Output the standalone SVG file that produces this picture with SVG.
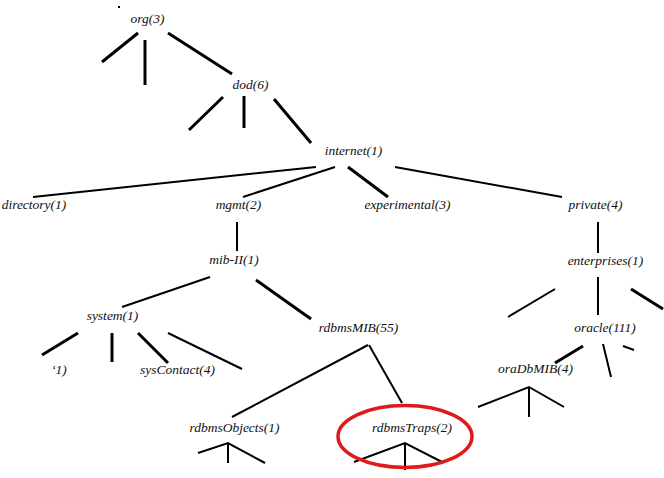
<svg xmlns="http://www.w3.org/2000/svg" width="664" height="478" viewBox="0 0 664 478">
<style>
.t{font-style:italic;font-size:13.5px;fill:#111;text-anchor:middle}
.k{stroke:#000;stroke-width:3;fill:none;stroke-linecap:butt}
.m{stroke:#000;stroke-width:2;fill:none}
</style>
<rect width="664" height="478" fill="#fff"/>
<g id="connectors">
<line class="m" x1="118" y1="7" x2="120" y2="7"/>
<line class="k" x1="138" y1="33" x2="102" y2="62"/>
<line class="k" x1="145" y1="40" x2="145" y2="85"/>
<line class="k" x1="168" y1="33" x2="232" y2="74"/>
<line class="k" x1="223" y1="97" x2="189" y2="130"/>
<line class="k" x1="244" y1="96" x2="244" y2="128"/>
<line class="k" x1="274" y1="99" x2="311" y2="143"/>
<line class="m" x1="316" y1="167" x2="33" y2="197"/>
<line class="m" x1="335" y1="167" x2="243" y2="197"/>
<line class="k" x1="348" y1="167" x2="388" y2="197"/>
<line class="m" x1="395" y1="167" x2="562" y2="197"/>
<line class="m" x1="237" y1="222" x2="237" y2="251"/>
<line class="m" x1="598" y1="222" x2="598" y2="253"/>
<line class="m" x1="210" y1="277" x2="122" y2="307"/>
<line class="k" x1="256" y1="280" x2="311" y2="319"/>
<line class="k" x1="78" y1="333" x2="42" y2="355"/>
<line class="k" x1="112" y1="333" x2="112" y2="362"/>
<line class="k" x1="138" y1="333" x2="168" y2="363"/>
<line class="m" x1="168" y1="333" x2="242" y2="369"/>
<line class="m" x1="368" y1="345" x2="232" y2="417"/>
<line class="m" x1="369" y1="345" x2="402" y2="403"/>
<polyline class="m" points="198,453 228,443 265,463"/>
<line class="m" x1="228" y1="443" x2="228" y2="463"/>
<polyline class="m" points="354,462 405,443 442,462"/>
<line class="m" x1="405" y1="443" x2="405" y2="470"/>
<line class="m" x1="555" y1="289" x2="508" y2="317"/>
<line class="m" x1="598" y1="277" x2="598" y2="315"/>
<line class="k" x1="631" y1="289" x2="663" y2="309"/>
<line class="k" x1="583" y1="346" x2="555" y2="363"/>
<line class="m" x1="603" y1="344" x2="611" y2="377"/>
<line class="m" x1="623" y1="346" x2="634" y2="350"/>
<polyline class="m" points="478,407 529,387 564,407"/>
<line class="m" x1="529" y1="387" x2="529" y2="417"/>
</g>
<g font-family="Liberation Serif, DejaVu Serif, serif">
<g id="org"><text class="t" x="147.5" y="23">org(3)</text></g>
<g id="dod"><text class="t" x="250.5" y="89">dod(6)</text></g>
<g id="internet"><text class="t" x="353.5" y="155">internet(1)</text></g>
<g id="directory"><text class="t" x="34" y="209">directory(1)</text></g>
<g id="mgmt"><text class="t" x="238.5" y="209">mgmt(2)</text></g>
<g id="experimental"><text class="t" x="407.5" y="209">experimental(3)</text></g>
<g id="private"><text class="t" x="595.5" y="209">private(4)</text></g>
<g id="mib2"><text class="t" x="234" y="264">mib-II(1)</text></g>
<g id="enterprises"><text class="t" x="605.5" y="265">enterprises(1)</text></g>
<g id="system"><text class="t" x="112.5" y="320">system(1)</text></g>
<g id="rdbmsMIB"><text class="t" x="358.5" y="332">rdbmsMIB(55)</text></g>
<g id="oracle"><text class="t" x="605" y="332">oracle(111)</text></g>
<g id="sys1"><text class="t" x="59" y="374">‘1)</text></g>
<g id="sysContact"><text class="t" x="177.5" y="374">sysContact(4)</text></g>
<g id="oraDbMIB"><text class="t" x="535.5" y="373">oraDbMIB(4)</text></g>
<g id="rdbmsObjects"><text class="t" x="234.5" y="432">rdbmsObjects(1)</text></g>
<g id="rdbmsTraps"><text class="t" x="412" y="432">rdbmsTraps(2)</text>
<ellipse cx="405" cy="436.5" rx="67" ry="31" fill="none" stroke="#e01a1a" stroke-width="3.5"/></g>
</g>
</svg>
